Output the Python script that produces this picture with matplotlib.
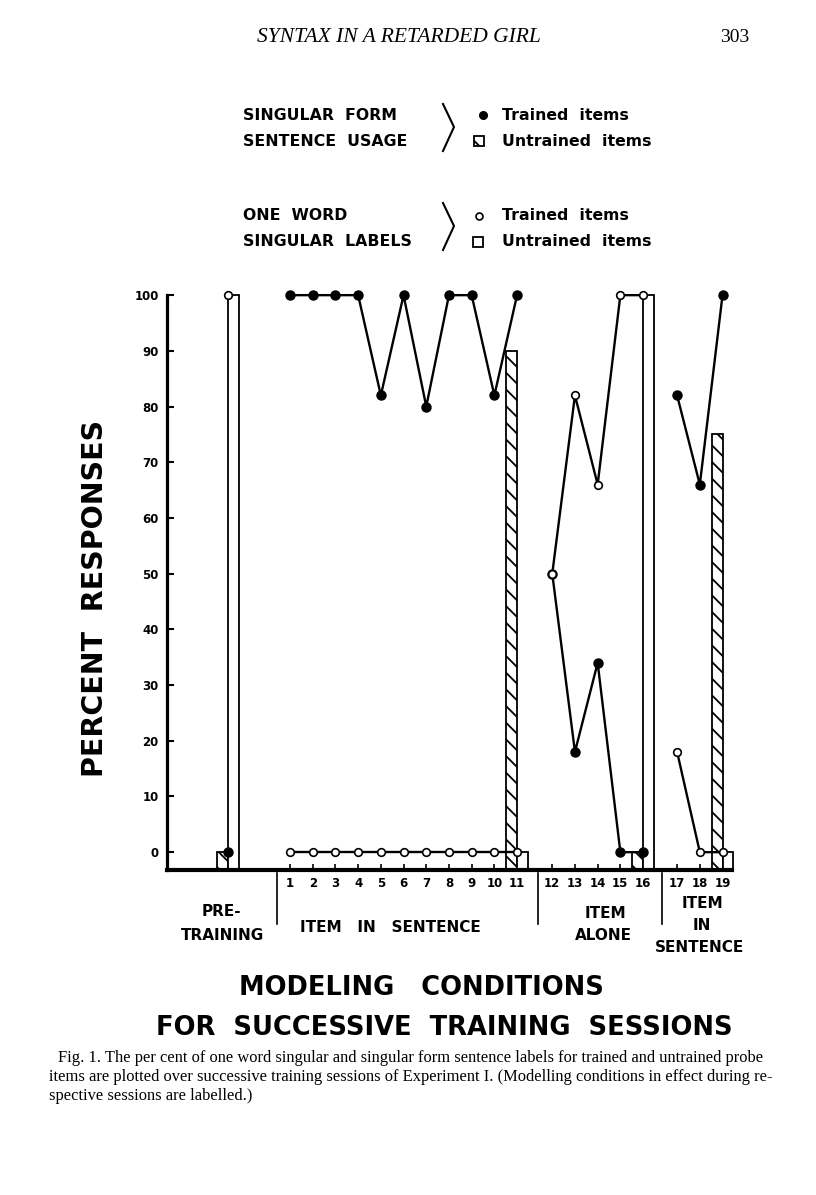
import matplotlib
matplotlib.use("Agg")
import matplotlib.pyplot as plt
from matplotlib.lines import Line2D
from matplotlib.patches import Rectangle

# Sessoes de treino e valores
sessions = list(range(1, 20))
sentence_trained = [100, 100, 100, 100, 82, 100, 80, 100, 100, 82, 100,
                    50, 18, 34, 0, 0,
                    82, 66, 100]
word_trained = [0, 0, 0, 0, 0, 0, 0, 0, 0, 0, 0,
                50, 82, 66, 100, 100,
                18, 0, 0]
sections = [(1, 11), (12, 16), (17, 19)]

# pre-treino (sessao 0) e sondas com itens nao treinados
pre_sentence_trained = 0
pre_word_trained = 100
probe_sessions = [0, 11, 16, 19]
sentence_untrained = [0, 90, 0, 75]
word_untrained = [100, 0, 100, 0]

xtick_labels = [str(s) for s in sessions]
yticks = [0, 10, 20, 30, 40, 50, 60, 70, 80, 90, 100]

W, H = 816, 1195
FONT = "DejaVu Sans"


def pos(s):
    # posicao horizontal com espacos entre as secoes
    if s == 0:
        return -1.73
    if s <= 11:
        return s
    if s <= 16:
        return s + 0.55
    return s + 1.05


def fx(x):
    return x / W


def fy(y):
    return 1 - y / H


plt.rcParams['hatch.linewidth'] = 1.3
fig = plt.figure(figsize=(W / 100, H / 100), dpi=100)
ybase = -3.2
ax = fig.add_axes([fx(167), fy(870), 573 / W, (870 - 289.6) / H])
ax.set_xlim(-4.42, 20.82)
ax.set_ylim(ybase, 101)

# barras: hachurada (frase, nao treinado) a esquerda, vazia (palavra) a direita
px = [pos(s) for s in probe_sessions]
ax.bar(px, [v - ybase for v in sentence_untrained], width=-0.48, bottom=ybase,
       align='edge', color='white', edgecolor='black', hatch='\\\\', linewidth=1.3, zorder=2)
ax.bar(px, [v - ybase for v in word_untrained], width=0.46, bottom=ybase,
       align='edge', color='white', edgecolor='black', linewidth=1.3, zorder=2)

# linhas por secao
for a, b in sections:
    idx = [i for i, s in enumerate(sessions) if a <= s <= b]
    xs = [pos(sessions[i]) for i in idx]
    ax.plot(xs, [sentence_trained[i] for i in idx], color='black', lw=1.7,
            marker='o', ms=6.5, mfc='black', mec='black', zorder=3)
    ax.plot(xs, [word_trained[i] for i in idx], color='black', lw=1.7,
            marker='o', ms=5.5, mfc='white', mec='black', mew=1.2, zorder=4)

ax.plot([pos(0)], [pre_sentence_trained], 'o', color='black', ms=6.5, zorder=3)
ax.plot([pos(0)], [pre_word_trained], 'o', mfc='white', mec='black', ms=5.5, mew=1.2, zorder=4)

# eixos
for side in ['top', 'right']:
    ax.spines[side].set_visible(False)
ax.spines['left'].set_linewidth(2.3)
ax.spines['left'].set_bounds(ybase, 100)
ax.spines['bottom'].set_linewidth(3)
ax.spines['bottom'].set_bounds(-4.42, 20.47)
ax.set_yticks(yticks)
ax.set_yticklabels([str(t) for t in yticks], fontsize=8.5, fontweight='bold', family=FONT)
ax.tick_params(axis='y', direction='in', length=5, width=1.5, pad=6)
ax.set_xticks([pos(s) for s in sessions])
ax.set_xticklabels(xtick_labels, fontsize=8.5, fontweight='bold', family=FONT)
ax.tick_params(axis='x', direction='in', length=4, width=1.2, pad=5)

fig.text(fx(95), fy(598), "PERCENT  RESPONSES", rotation=90, fontsize=20.5, fontweight='bold',
         family=FONT, ha='center', va='center')

# divisorias das condicoes
for xd in [277, 538, 662]:
    fig.add_artist(Line2D([fx(xd), fx(xd)], [fy(873), fy(924)], color='black', lw=1.2))

lab = dict(fontsize=11, fontweight='bold', family=FONT, ha='center', va='center')
fig.text(fx(221), fy(911), "PRE-", **lab)
fig.text(fx(223), fy(935), "TRAINING", **lab)
fig.text(fx(390), fy(927), "ITEM   IN   SENTENCE", **lab)
fig.text(fx(605), fy(913), "ITEM", **lab)
fig.text(fx(603), fy(935), "ALONE", **lab)
fig.text(fx(702), fy(904), "ITEM", **lab)
fig.text(fx(702), fy(926), "IN", **lab)
fig.text(fx(700), fy(948), "SENTENCE", **lab)

fig.text(fx(421), fy(988), "MODELING   CONDITIONS", fontsize=18.5, fontweight='bold',
         family=FONT, ha='center', va='center')
fig.text(fx(444), fy(1028), "FOR  SUCCESSIVE  TRAINING  SESSIONS", fontsize=18.5,
         fontweight='bold', family=FONT, ha='center', va='center')

# cabecalho da pagina
fig.text(fx(399), fy(37), "SYNTAX IN A RETARDED GIRL", fontsize=15.5, style='italic',
         family='Liberation Serif', ha='center', va='center')
fig.text(fx(735), fy(37), "303", fontsize=14, family='Liberation Serif', ha='center', va='center')

# legenda
leg = dict(fontsize=11.3, fontweight='bold', family=FONT, va='center', ha='left')
fig.text(fx(243), fy(116), "SINGULAR  FORM", **leg)
fig.text(fx(243), fy(141), "SENTENCE  USAGE", **leg)
fig.text(fx(243), fy(216), "ONE  WORD", **leg)
fig.text(fx(243), fy(241), "SINGULAR  LABELS", **leg)
fig.text(fx(502), fy(115), "Trained  items", **leg)
fig.text(fx(502), fy(141), "Untrained  items", **leg)
fig.text(fx(502), fy(216), "Trained  items", **leg)
fig.text(fx(502), fy(241), "Untrained  items", **leg)
for y0 in [104, 203]:
    fig.add_artist(Line2D([fx(443), fx(454), fx(443)], [fy(y0), fy(y0 + 23), fy(y0 + 47)],
                          color='black', lw=1.5))
fig.add_artist(Line2D([fx(483)], [fy(115)], marker='o', ms=5.5, color='black'))
fig.add_artist(Line2D([fx(479)], [fy(216)], marker='o', ms=5, mfc='white', mec='black', mew=1.2))
fig.add_artist(Rectangle((fx(474), fy(146)), 10 / W, 10 / H, transform=fig.transFigure,
                         facecolor='white', edgecolor='black', hatch='\\', lw=1.3))
fig.add_artist(Rectangle((fx(473), fy(247)), 10 / W, 10 / H, transform=fig.transFigure,
                         facecolor='white', edgecolor='black', lw=1.3))

# legenda da figura
cap = dict(fontsize=11.9, family='Liberation Serif', ha='left', va='center')
fig.text(fx(58), fy(1058), "Fig. 1. The per cent of one word singular and singular form sentence "
         "labels for trained and untrained probe", **cap)
fig.text(fx(49), fy(1077), "items are plotted over successive training sessions of Experiment I. "
         "(Modelling conditions in effect during re-", **cap)
fig.text(fx(49), fy(1096), "spective sessions are labelled.)", **cap)

fig.savefig("out.png", dpi=100)
